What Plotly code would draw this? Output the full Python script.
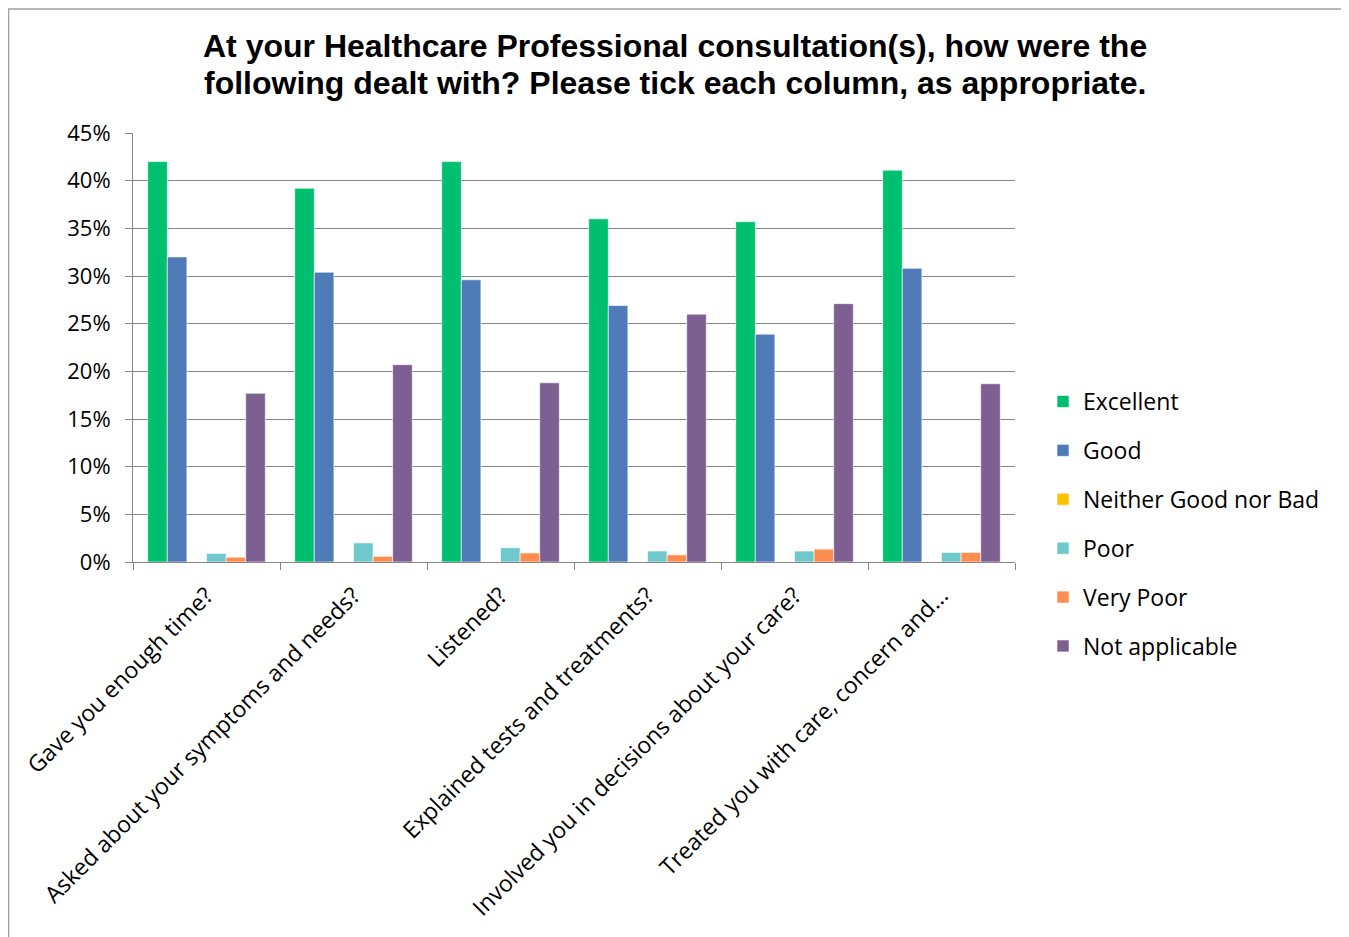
import plotly.graph_objects as go

categories = [
    "Gave you enough time?",
    "Asked about your symptoms and needs?",
    "Listened?",
    "Explained tests and treatments?",
    "Involved you in decisions about your care?",
    "Treated you with care, concern and...",
]
series_names = ["Excellent", "Good", "Neither Good nor Bad", "Poor", "Very Poor", "Not applicable"]
excellent = [42.0, 39.2, 42.0, 36.0, 35.7, 41.1]
good = [32.0, 30.4, 29.6, 26.9, 23.9, 30.8]
neither = [0.0, 0.0, 0.0, 0.0, 0.0, 0.0]
poor = [0.9, 2.0, 1.5, 1.15, 1.15, 1.0]
very_poor = [0.5, 0.6, 0.95, 0.75, 1.35, 1.0]
not_applicable = [17.7, 20.7, 18.8, 26.0, 27.1, 18.7]
y_ticks = [0, 5, 10, 15, 20, 25, 30, 35, 40, 45]
title_lines = [
    "At your Healthcare Professional consultation(s), how were the",
    "following dealt with? Please tick each column, as appropriate.",
]

values = [excellent, good, neither, poor, very_poor, not_applicable]
colors = ["#00BF6F", "#4F7CB9", "#FFC000", "#6EC8CC", "#FF8C50", "#7D5F92"]

fig = go.Figure()
for i, (name, vals, col) in enumerate(zip(series_names, values, colors)):
    fig.add_trace(go.Bar(
        x=categories, y=[v / 100 for v in vals], name=name, legendgroup=f"g{i}",
        marker=dict(color=col, line=dict(color="rgba(255,255,255,0.6)", width=1)),
    ))

# page offset from body margin
O = 8
W, H = 1349 - O, 937 - O
L, R, T, B = 133 - O, 1015 - O, 133 - O, 562 - O
pw, ph = R - L, B - T

def px_x(p):
    return (p - O - L) / pw

def px_y(p):
    return (B - (p - O)) / ph

annotations = []
for line, yc in zip(title_lines, [46, 83]):
    annotations.append(dict(
        text=line, xref="paper", yref="paper",
        x=px_x(675), y=px_y(yc), xanchor="center", yanchor="middle",
        showarrow=False,
        font=dict(family="'Liberation Sans', Arial, sans-serif", size=32, color="#000000", weight="bold"),
    ))

fig.update_layout(
    width=W, height=H,
    margin=dict(l=L, r=W - R, t=T, b=H - B, pad=0),
    paper_bgcolor="white", plot_bgcolor="white",
    barmode="group", bargap=0.2, bargroupgap=0,
    font=dict(family="'Open Sans', Lato, sans-serif", color="#000000"),
    annotations=annotations,
    showlegend=True,
    legend=dict(
        x=px_x(1043), xanchor="left", y=px_y(524), yanchor="middle",
        font=dict(size=23, color="#000000"), tracegroupgap=16,
        itemwidth=30, bgcolor="rgba(0,0,0,0)",
    ),
    xaxis=dict(
        tickangle=-45, tickfont=dict(size=23, color="#000000"),
        showline=True, linecolor="#868686", linewidth=1,
        ticks="outside", tickson="boundaries", ticklen=7, tickcolor="#868686",
        ticklabelstandoff=10,
        showgrid=False,
    ),
    yaxis=dict(
        range=[0, 0.45], tickvals=[t / 100 for t in y_ticks], tickformat=".0%",
        tickfont=dict(size=22, color="#000000"),
        showgrid=True, gridcolor="#868686", gridwidth=1,
        showline=True, linecolor="#868686", linewidth=1,
        ticks="outside", ticklen=7, tickcolor="#868686",
        ticklabelstandoff=10,
        zeroline=False,
    ),
    shapes=[dict(
        type="rect", xref="paper", yref="paper",
        x0=px_x(8.5), x1=px_x(1344), y0=px_y(960), y1=px_y(9),
        line=dict(color="#A0A0A0", width=1.5), fillcolor="rgba(0,0,0,0)", layer="below",
    )],
)

fig.write_html("out.html")
